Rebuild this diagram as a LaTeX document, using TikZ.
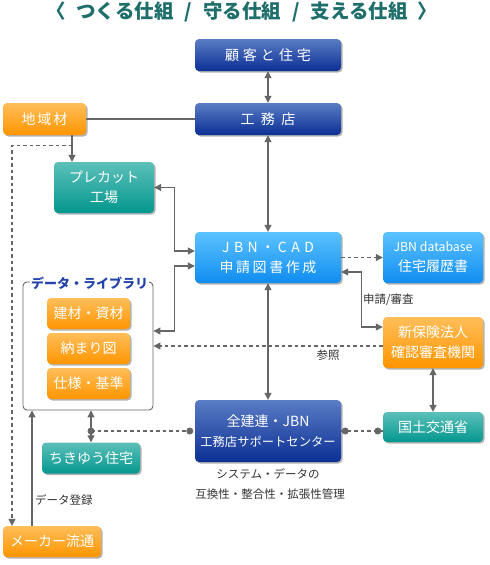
\documentclass[tikz,border=0pt]{standalone}
\usepackage{fontspec}
\setmainfont{Noto Sans CJK JP}
\usetikzlibrary{arrows.meta,shadows,calc}
\definecolor{bluetop}{HTML}{5A7CC4}
\definecolor{bluebot}{HTML}{0B2F95}
\definecolor{skytop}{HTML}{5CC2FF}
\definecolor{skybot}{HTML}{108DF0}
\definecolor{orgtop}{HTML}{FFBE5A}
\definecolor{orgbot}{HTML}{FF9500}
\definecolor{tealtop}{HTML}{5CC0B9}
\definecolor{tealbot}{HTML}{03978F}
\definecolor{linegray}{HTML}{666666}
\definecolor{titlecol}{HTML}{1E6E6C}
\definecolor{libcol}{HTML}{2244AA}
\definecolor{labcol}{HTML}{333333}
\newcommand\gp[1]{\hspace{#1pt}}
\begin{document}
\begin{tikzpicture}[x=1pt,y=-1pt,
  box/.style={rounded corners=4pt, text=white, align=center, inner sep=0pt,
    font=\fontsize{14}{20}\selectfont,
    drop shadow={shadow xshift=1.5pt, shadow yshift=-1.5pt, opacity=0.3, fill=black}},
  bluebox/.style={box, top color=bluetop, bottom color=bluebot},
  skybox/.style={box, top color=skytop, bottom color=skybot},
  orgbox/.style={box, top color=orgtop, bottom color=orgbot},
  tealbox/.style={box, top color=tealtop, bottom color=tealbot},
  conn/.style={draw=linegray, line width=1.1pt},
  arr/.style={conn, -{Triangle[length=7pt,width=7pt]}},
  darr/.style={conn, {Triangle[length=7pt,width=7pt]}-{Triangle[length=7pt,width=7pt]}},
  dashline/.style={conn, dash pattern=on 3.5pt off 3pt},
  lab/.style={text=labcol, font=\fontsize{11.5}{13}\selectfont, inner sep=0pt},
  dotfill/.style={fill=linegray}
]
\useasboundingbox (0,0) rectangle (490,565);

% title
\node[text=titlecol, font=\fontsize{19.5}{22}\selectfont\bfseries] (title) at (242,12)
  {〈\gp{10}つくる仕組\gp{11}/\gp{11}守る仕組\gp{11}/\gp{11}支える仕組\gp{10}〉};

% nodes
\node[bluebox, minimum width=146pt, minimum height=32pt] (kokyaku) at (268,55) {顧\gp{4}客\gp{4}と\gp{4}住\gp{4}宅};
\node[bluebox, minimum width=146pt, minimum height=32pt] (koumu) at (268,119) {工\gp{6.5}務\gp{6.5}店};
\node[orgbox, minimum width=83pt, minimum height=32pt] (chiiki) at (44.5,119) {地\gp{2}域\gp{2}材};
\node[tealbox, minimum width=100pt, minimum height=51pt] (precut) at (104,187.5) {プレカット\\工場};
\node[skybox, minimum width=146pt, minimum height=51pt] (cad) at (268,257.5) {J\gp{4.5}B\gp{4.5}N\gp{3}・\gp{3}C\gp{4.5}A\gp{4.5}D\\申\gp{2.6}請\gp{2.6}図\gp{2.6}書\gp{2.6}作\gp{2.6}成};
\node[skybox, minimum width=100pt, minimum height=51pt] (db) at (433,257.5) {{\fontsize{12.3}{20}\selectfont JBN database}\\住宅履歴書};
\node[orgbox, minimum width=100pt, minimum height=51pt] (hoken) at (433,342.5) {新保険法人\\確認審査機関};

% library frame
\node[draw=linegray, line width=0.9pt, rounded corners=4pt, minimum width=130pt, minimum height=128pt, inner sep=0pt] (lib) at (88,346) {};
\node[fill=white, text=libcol, font=\fontsize{13}{15}\selectfont\bfseries, inner sep=1pt] (libtitle) at (89.5,283) {データ・ライブラリ};
\node[orgbox, minimum width=83pt, minimum height=31pt] (kenzai) at (88.5,313.5) {建材・資材};
\node[orgbox, minimum width=83pt, minimum height=31pt] (osamari) at (88.5,348.5) {納まり図};
\node[orgbox, minimum width=83pt, minimum height=31pt] (shiyou) at (88.5,383.5) {仕様・基準};

\node[bluebox, minimum width=146pt, minimum height=62pt] (zen) at (268,431) {全建連・JBN\\{\fontsize{12.3}{20}\selectfont 工務店サポートセンター}};
\node[tealbox, minimum width=100pt, minimum height=30pt] (kokudo) at (433,427) {国土交通省};
\node[tealbox, minimum width=98pt, minimum height=31pt] (chikyu) at (91,458) {ちきゆう住宅};
\node[orgbox, minimum width=98pt, minimum height=31pt] (maker) at (52,541.5) {メーカー流通};

% labels
\node[lab, anchor=west] (l1) at (363,300) {申請/審査};
\node[lab] (l2) at (328,355) {参照};
\node[lab] (l3) at (268,474) {システム・データの};
\node[lab] (l4) at (270,494) {互換性・整合性・拡張性管理};
\node[lab, anchor=west] (l5) at (35,500) {データ登録};

% connectors
\draw[darr] (kokyaku.south) -- (koumu.north);
\draw[conn] (chiiki.east) -- (koumu.west);
\draw[darr] (koumu.south) -- (cad.north);
\draw[darr] (cad.south) -- (zen.north);
\draw[darr] (hoken.south) -- (kokudo.north);
\coordinate (chsplit) at ($(chiiki.south)+(27.5,10)$);
\draw[arr] ([xshift=27.5pt]chiiki.south) -- (precut.north -| chsplit);
\draw[dashline, -{Triangle[length=7pt,width=7pt]}] (chsplit) -| ([xshift=-40pt]maker.north);
\draw[darr] (precut.east) -- ++(20,0) |- ([yshift=6.5pt]cad.west);
\draw[darr] ([yshift=15pt]lib.east) -- ++(21,0) |- ([yshift=-8.5pt]cad.west);
\draw[dashline, -{Triangle[length=7pt,width=7pt]}] (cad.east) -- (db.west);
\draw[darr] ([yshift=15.5pt]hoken.west) -- ++(-21,0) |- ([yshift=-14.5pt]cad.east);
\draw[dashline, -{Triangle[length=7pt,width=7pt]}] (hoken.west |- lib.east) -- (lib.east);
\draw[arr] ([xshift=-20pt]maker.north) -- ([xshift=-20pt]maker.north |- lib.south);
\coordinate (cmid) at (chikyu.north |- zen.west);
\coordinate (zl) at ([xshift=-5pt]zen.west);
\coordinate (zr) at ([xshift=4pt]zen.east);
\coordinate (kl) at ([xshift=-5pt]kokudo.west |- zen.east);
\draw[darr] (chikyu.north |- lib.south) -- (chikyu.north);
\draw[dashline] (cmid) -- (zen.west);
\draw[dashline] (zen.east) -- (kokudo.west |- zen.east);
\fill[dotfill] (cmid) circle (3.5pt);
\fill[dotfill] (zl) circle (3.5pt);
\fill[dotfill] (zr) circle (3.5pt);
\fill[dotfill] (kl) circle (3.5pt);
\end{tikzpicture}
\end{document}
